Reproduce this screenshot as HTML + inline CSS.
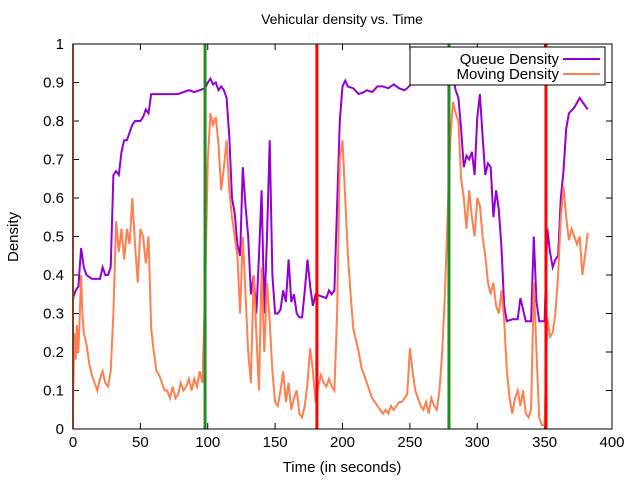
<!DOCTYPE html>
<html><head><meta charset="utf-8"><style>
body{margin:0;background:#fff}
svg text{font-family:"Liberation Sans",sans-serif;font-size:15px;fill:#000}
</style></head><body>
<svg id="chart" width="640" height="480" xmlns="http://www.w3.org/2000/svg">
<text x="342" y="24" text-anchor="middle" style="font-size:14px">Vehicular density vs. Time</text>
<g id="grid"></g>
<g id="series"></g>
<rect x="73" y="44" width="539" height="385" fill="none" stroke="#000" stroke-width="1"/>
<text x="342" y="472" text-anchor="middle">Time (in seconds)</text>
<text transform="translate(18,237) rotate(-90)" text-anchor="middle">Density</text>
<g>
<rect x="410" y="47" width="195" height="38" fill="#fff" stroke="#000" stroke-width="1"/>
<text x="559" y="64" text-anchor="end">Queue Density</text>
<line x1="563" y1="59" x2="600" y2="59" stroke="#9400d3" stroke-width="2"/>
<text x="559" y="79" text-anchor="end">Moving Density</text>
<line x1="563" y1="74" x2="600" y2="74" stroke="#ff7f50" stroke-width="2"/>
</g>
</svg>
<script>
const xTicks=[0,50,100,150,200,250,300,350,400];
const yTicks=[0,0.1,0.2,0.3,0.4,0.5,0.6,0.7,0.8,0.9,1];
const yTickLabels=["0","0.1","0.2","0.3","0.4","0.5","0.6","0.7","0.8","0.9","1"];
const qT=[0,2,4,6,8,10,14,18,20,22,24,26,28,30,32,34,36,38,40,44,46,50,52,54,56,58,62,70,74,78,82,86,90,94,98,100,102,104,106,108,110,112,114,116,118,120,122,124,126,128,130,132,134,136,138,140,142,144,146,148,150,152,154,156,158,160,162,164,166,168,170,172,174,176,178,180,184,188,190,192,194,196,198,200,202,204,208,212,216,218,222,226,230,234,238,242,246,248,252,256,262,270,276,278,280,282,284,286,288,290,292,294,296,298,300,302,304,306,308,310,312,314,316,318,320,322,326,330,332,334,336,340,342,344,346,350,352,354,356,358,360,362,364,366,368,372,376,378,380,382];
const qV=[0.34,0.36,0.37,0.47,0.42,0.40,0.39,0.39,0.39,0.42,0.40,0.40,0.42,0.66,0.67,0.66,0.72,0.75,0.75,0.79,0.80,0.80,0.81,0.83,0.82,0.87,0.87,0.87,0.87,0.87,0.875,0.88,0.875,0.88,0.885,0.90,0.91,0.895,0.90,0.88,0.89,0.88,0.86,0.76,0.60,0.56,0.48,0.45,0.68,0.58,0.50,0.35,0.40,0.30,0.45,0.62,0.30,0.50,0.75,0.40,0.30,0.30,0.31,0.36,0.33,0.44,0.33,0.35,0.30,0.29,0.29,0.36,0.44,0.37,0.32,0.35,0.345,0.34,0.36,0.35,0.36,0.58,0.80,0.89,0.905,0.89,0.885,0.87,0.875,0.88,0.875,0.89,0.89,0.885,0.895,0.885,0.88,0.885,0.90,0.905,0.905,0.905,0.905,0.91,0.905,0.91,0.88,0.86,0.78,0.68,0.71,0.70,0.72,0.66,0.81,0.87,0.76,0.66,0.69,0.68,0.55,0.62,0.57,0.47,0.32,0.28,0.285,0.285,0.34,0.31,0.28,0.28,0.50,0.33,0.28,0.28,0.52,0.46,0.42,0.44,0.45,0.60,0.67,0.78,0.82,0.835,0.86,0.85,0.84,0.83];
const mT=[0,1,2,3,4,5,6,7,8,10,12,14,16,18,20,22,24,26,28,30,32,34,36,38,40,42,44,46,48,50,52,54,56,58,60,62,64,66,68,70,72,74,76,78,80,82,84,86,88,90,92,94,96,98,100,102,104,106,108,110,112,114,116,118,120,122,124,126,128,130,132,134,136,138,140,142,144,146,148,150,152,154,156,158,160,162,164,166,168,170,172,174,176,178,180,182,184,186,188,190,192,194,196,198,200,202,204,206,208,210,212,214,216,218,220,222,224,226,228,230,232,234,236,238,240,242,244,246,248,250,252,254,256,258,260,262,264,266,268,270,272,274,276,278,280,282,284,286,288,290,292,294,296,298,300,302,304,306,308,310,312,314,316,318,320,322,324,326,328,330,332,334,336,338,340,342,344,346,348,350,352,354,356,358,360,362,364,366,368,370,372,374,376,378,380,382];
const mV=[0.06,0.25,0.18,0.27,0.20,0.29,0.40,0.30,0.25,0.22,0.17,0.14,0.12,0.10,0.13,0.15,0.12,0.11,0.15,0.30,0.54,0.46,0.52,0.44,0.52,0.48,0.60,0.48,0.38,0.52,0.50,0.43,0.50,0.26,0.20,0.15,0.14,0.12,0.10,0.10,0.08,0.11,0.08,0.09,0.12,0.10,0.11,0.13,0.10,0.13,0.11,0.15,0.12,0.36,0.70,0.82,0.79,0.81,0.74,0.62,0.68,0.75,0.62,0.55,0.50,0.45,0.30,0.50,0.35,0.20,0.12,0.40,0.25,0.10,0.42,0.20,0.38,0.28,0.15,0.07,0.06,0.10,0.15,0.07,0.12,0.05,0.08,0.10,0.04,0.03,0.06,0.12,0.21,0.15,0.07,0.11,0.14,0.12,0.11,0.13,0.11,0.10,0.30,0.70,0.75,0.60,0.45,0.35,0.26,0.23,0.20,0.16,0.14,0.12,0.10,0.08,0.07,0.06,0.05,0.04,0.05,0.04,0.06,0.05,0.06,0.07,0.07,0.08,0.09,0.21,0.15,0.10,0.08,0.06,0.05,0.07,0.04,0.08,0.06,0.05,0.10,0.20,0.35,0.55,0.75,0.85,0.82,0.80,0.65,0.60,0.52,0.62,0.55,0.50,0.60,0.58,0.50,0.45,0.38,0.35,0.38,0.32,0.30,0.36,0.28,0.15,0.08,0.04,0.08,0.10,0.06,0.10,0.04,0.03,0.05,0.38,0.20,0.03,0.01,0.01,0.29,0.24,0.25,0.30,0.40,0.55,0.63,0.55,0.49,0.52,0.50,0.48,0.50,0.40,0.45,0.51];
const greenLines=[98,279];
const redLines=[181,351];

const NS="http://www.w3.org/2000/svg";
const X0=73,X1=612,Y0=429,Y1=44;
const xs=t=>X0+(t-0)/(400-0)*(X1-X0);
const ys=v=>Y0-(v-0)/(1-0)*(Y0-Y1);
const grid=document.getElementById('grid');
const ser=document.getElementById('series');
function mk(tag,attrs,parent){const e=document.createElementNS(NS,tag);for(const k in attrs)e.setAttribute(k,attrs[k]);parent.appendChild(e);return e;}
xTicks.forEach(t=>{
  const l=mk('line',{x1:xs(t),x2:xs(t),y1:Y0,y2:Y0-6,stroke:'#000'},grid);
  
  
  const l2=mk('line',{x1:xs(t),x2:xs(t),y1:Y1,y2:Y1+6,stroke:'#000'},grid);
  
  
  const tx=mk('text',{x:xs(t),y:Y0+18,'text-anchor':'middle'},grid);tx.textContent=t;
  
  
});
yTicks.forEach((v,i)=>{
  const l=mk('line',{x1:X0,x2:X0+6,y1:ys(v),y2:ys(v),stroke:'#000'},grid);
  
  
  const l2=mk('line',{x1:X1,x2:X1-6,y1:ys(v),y2:ys(v),stroke:'#000'},grid);
  
  
  const tx=mk('text',{x:X0-9,y:ys(v)+5,'text-anchor':'end'},grid);tx.textContent=yTickLabels[i];
  
  
});
function poly(T,V,color,name){
  const pts=T.map((t,i)=>xs(t).toFixed(1)+','+ys(V[i]).toFixed(1)).join(' ');
  const p=mk('polyline',{points:pts,fill:'none',stroke:color,'stroke-width':2,'stroke-linejoin':'miter'},ser);
  
  
}
poly(qT,qV,'#9400d3','queue-density-line');
poly(mT,mV,'#ff7f50','moving-density-line');
const z=mk('line',{x1:xs(0),x2:xs(0),y1:Y1,y2:Y0,stroke:'#ff7f50','stroke-width':2},ser);


greenLines.forEach(t=>{const l=mk('line',{x1:xs(t),x2:xs(t),y1:Y1,y2:Y0,stroke:'#228b22','stroke-width':3},ser);
  
  });
redLines.forEach(t=>{const l=mk('line',{x1:xs(t),x2:xs(t),y1:Y1,y2:Y0,stroke:'#ff0000','stroke-width':3},ser);
  
  });
</script>
</body></html>
